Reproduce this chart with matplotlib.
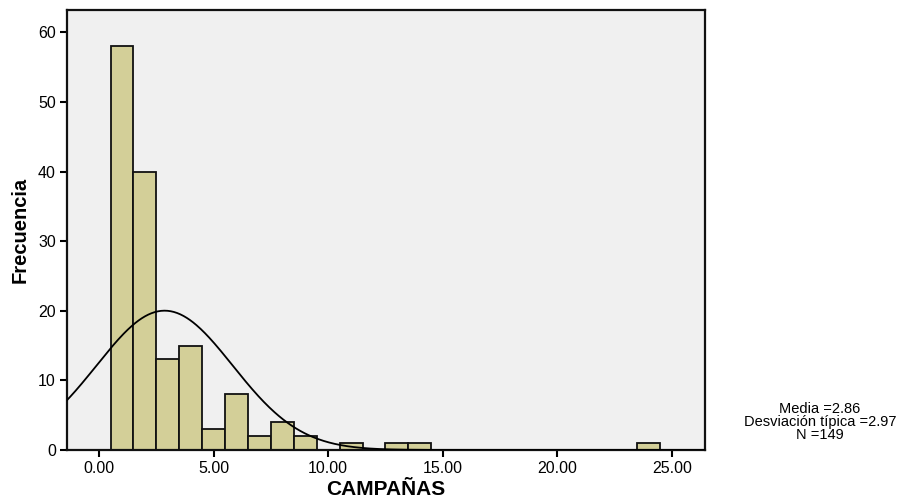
import matplotlib
matplotlib.use("Agg")
import matplotlib.pyplot as plt
import numpy as np

plt.rcParams['font.family'] = ['Liberation Sans', 'DejaVu Sans']

# Histograma de CAMPAÑAS (ancho de clase 1, centros enteros)
centros = [1, 2, 3, 4, 5, 6, 7, 8, 9, 11, 13, 14, 24]
frecuencias = [58, 40, 13, 15, 3, 8, 2, 4, 2, 1, 1, 1, 1]
media = 2.86
desv = 2.97
n = 149
ticks_x = [0, 5, 10, 15, 20, 25]
ticks_y = [0, 10, 20, 30, 40, 50, 60]

fig = plt.figure(figsize=(8.98, 5.03), dpi=100)
ax = fig.add_axes([0.0746, 0.1054, 0.7105, 0.8746])
ax.set_facecolor('#f0f0f0')

ax.bar(centros, frecuencias, width=1.0, color='#d3cf98',
       edgecolor='#111111', linewidth=1.3, zorder=2)

# curva normal escalada a la frecuencia
xs = np.linspace(-1.5, 26.5, 600)
ys = n * 1.0 / (desv * np.sqrt(2 * np.pi)) * np.exp(-0.5 * ((xs - media) / desv) ** 2)
ax.plot(xs, ys, color='black', lw=1.3, zorder=3)

ax.set_xlim(-1.4, 26.45)
ax.set_ylim(0, 63.2)
ax.set_xticks(ticks_x)
ax.set_xticklabels(['%.2f' % v for v in ticks_x])
ax.set_yticks(ticks_y)
ax.tick_params(axis='both', direction='out', length=5, width=1.5,
               labelsize=11.5, colors='black', pad=3)
ax.tick_params(top=False, right=False)
for s in ax.spines.values():
    s.set_linewidth(1.6)
    s.set_color('#111111')

ax.set_xlabel('CAMPAÑAS', fontsize=15, fontweight='bold', labelpad=3)
ax.set_ylabel('Frecuencia', fontsize=14.5, fontweight='bold', labelpad=6)

fig.text(0.913, 0.122, 'Media =%.2f\nDesviación típica =%.2f\nN =%d' % (media, desv, n),
         ha='center', va='bottom', fontsize=10.5, linespacing=0.9)

fig.savefig('out.png', dpi=100)
